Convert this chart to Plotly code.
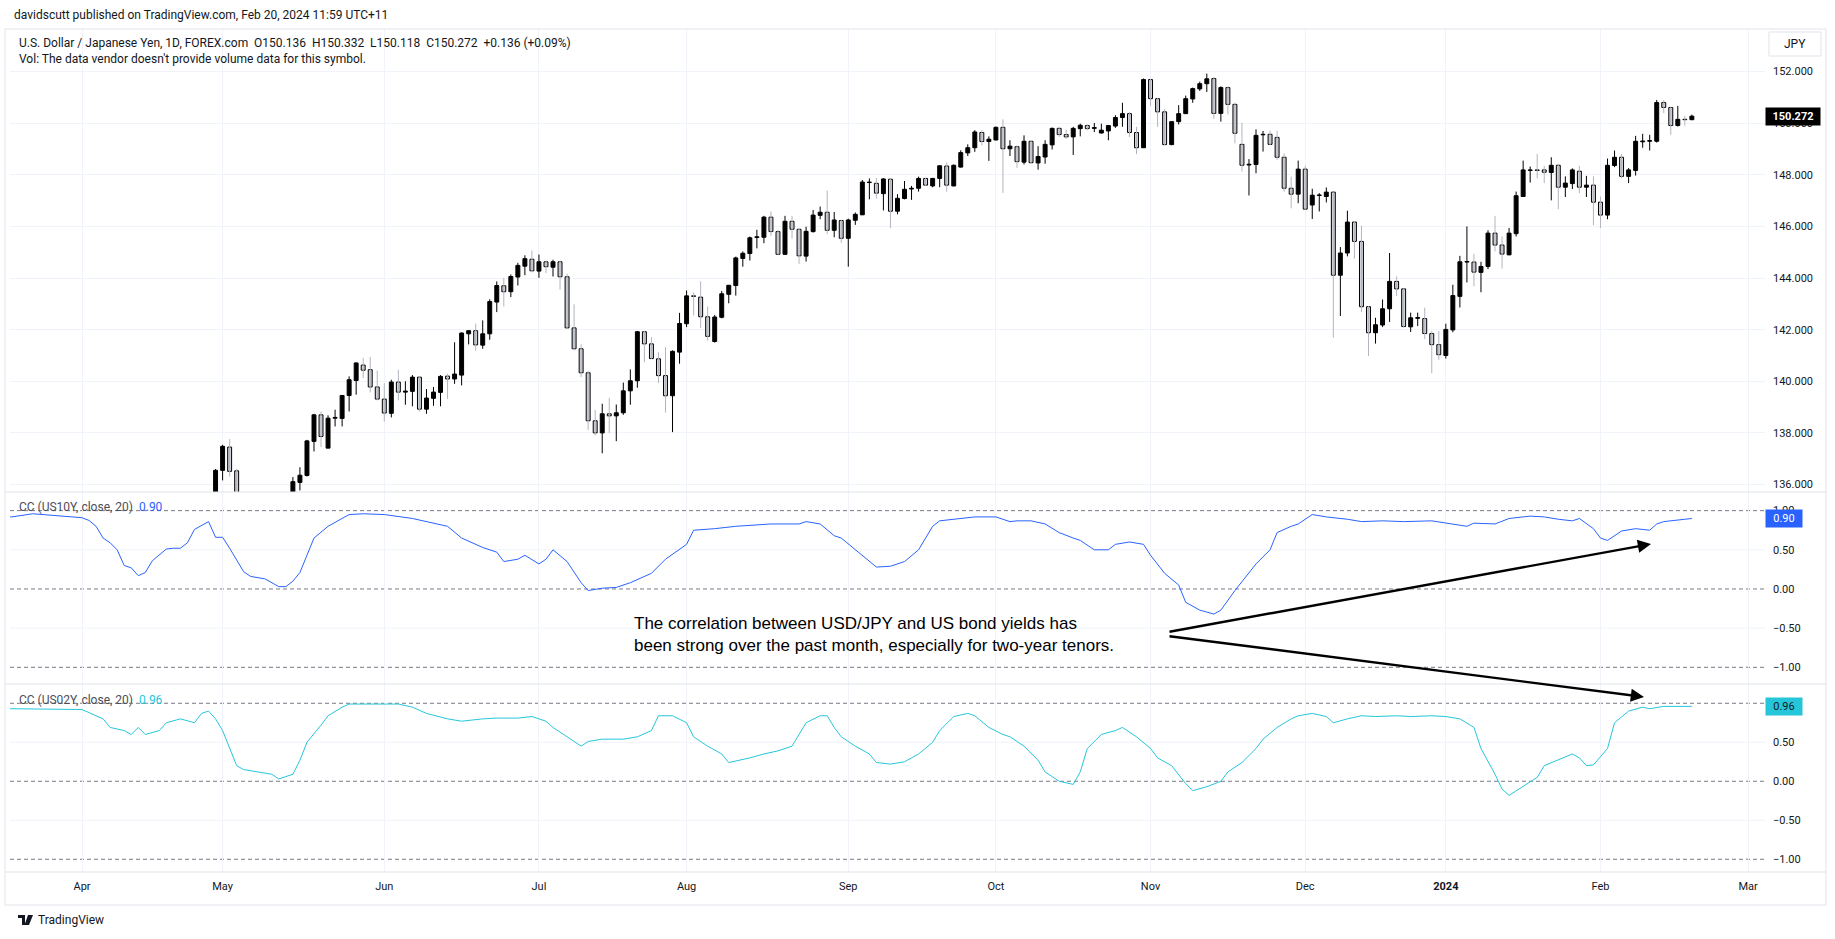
import plotly.graph_objects as go
import pandas as pd

# ---------------- data ----------------
candle_start = "2023-04-28"
opens = [
    133.90,
    136.55, 137.45, 136.53, 134.70, 134.25, 134.80, 135.10, 135.20, 134.30, 134.55, 135.60, 136.08, 136.35, 137.67, 138.70, 137.41, 138.57, 138.56, 139.45, 140.03, 140.63, 140.45, 139.78,
    139.31, 138.76, 139.97, 139.58, 139.61, 140.16, 138.92, 139.34, 139.57, 140.20, 140.09, 140.24, 141.84, 141.96, 141.40, 141.84, 143.07, 143.70, 143.47, 144.04, 144.46, 144.73,
    144.27, 144.63, 144.42, 144.63, 144.05, 142.07, 141.26, 140.33, 138.47, 138.00, 138.74, 138.66, 138.78, 139.63, 140.02, 141.92, 141.45, 140.87, 140.22, 139.44, 141.13,
    142.23, 143.31, 143.26, 142.50, 141.54, 142.48, 143.37, 143.71, 144.76, 144.95, 145.57, 145.58, 146.36, 145.80, 144.92, 146.20, 145.89, 144.85, 145.80, 146.43, 146.55, 145.85, 146.23,
    145.54, 146.24, 146.45, 147.70, 147.67, 147.27, 147.83, 146.59, 147.08, 147.45, 147.48, 147.86, 147.57, 147.86, 148.34, 147.57, 148.30, 148.85, 149.05, 149.64, 149.29,
    149.35, 149.84, 149.01, 149.09, 148.49, 149.30, 148.46, 148.69, 149.16, 149.80, 149.56, 149.47, 149.79, 149.91, 149.80, 149.62, 149.70, 149.89, 150.22, 150.37, 149.64, 149.05,
    151.69, 150.95, 150.44, 149.17, 150.06, 150.37, 150.94, 151.33, 151.53, 151.73, 150.38, 151.38, 150.73, 149.18, 148.38, 148.40, 149.55, 149.57, 149.45, 148.68, 147.48, 147.25,
    148.22, 146.83, 147.20, 147.16, 147.33, 144.11, 144.97, 146.17, 145.42, 142.89, 141.88, 142.18, 142.81, 143.87, 143.58, 142.11, 142.44, 142.43, 141.85, 141.42,
    141.00, 141.99, 143.29, 144.62, 144.62, 144.22, 144.45, 145.74, 145.28, 144.90, 145.72, 147.16, 148.17, 148.19, 148.19, 148.09, 148.37, 147.52, 147.66, 148.14, 147.52, 147.60,
    146.94, 146.44, 148.36, 148.68, 147.94, 148.17, 149.28, 149.30, 149.30, 150.80, 150.61, 149.91, 150.15, 150.136,
]
highs = [
    136.60,
    137.54, 137.76, 136.61, 134.85, 135.10, 135.20, 135.45, 135.45, 134.90, 135.60, 136.29, 136.67, 137.73, 138.74, 138.83, 138.68, 138.90, 139.47, 140.19, 140.73, 140.91, 140.94, 140.42,
    139.93, 140.06, 140.45, 140.00, 140.24, 140.21, 139.70, 139.78, 140.24, 140.29, 141.51, 141.89, 141.97, 142.23, 142.36, 143.18, 143.87, 144.01, 144.14, 144.59, 144.88, 145.07,
    144.91, 144.68, 144.71, 144.68, 144.17, 142.98, 141.43, 140.40, 138.89, 139.13, 139.36, 139.10, 139.95, 140.46, 141.95, 141.95, 141.71, 141.13, 141.32, 141.20, 142.65,
    143.52, 143.44, 143.87, 142.90, 142.57, 143.50, 143.72, 144.83, 145.03, 145.61, 145.87, 146.41, 146.58, 145.87, 146.41, 146.41, 145.92, 145.99, 146.64, 146.77, 147.39, 146.56, 146.25,
    146.30, 146.54, 147.80, 147.86, 147.88, 147.87, 147.85, 147.25, 147.76, 147.57, 147.93, 147.88, 147.88, 148.37, 148.48, 148.40, 148.95, 149.18, 149.73, 149.73, 149.49,
    149.87, 150.15, 149.34, 149.14, 149.53, 149.32, 149.11, 149.34, 149.83, 149.86, 149.75, 149.86, 149.98, 149.96, 150.01, 149.98, 149.91, 150.31, 150.79, 150.44, 149.86, 151.73,
    151.72, 150.97, 150.55, 150.06, 150.70, 151.07, 151.38, 151.61, 151.92, 151.79, 151.43, 151.43, 150.79, 150.02, 148.61, 149.76, 149.70, 149.71, 149.71, 148.83, 147.93, 148.55,
    148.35, 147.46, 147.29, 147.51, 147.35, 145.20, 146.61, 146.20, 146.03, 142.91, 142.46, 143.17, 144.97, 144.07, 143.60, 142.66, 142.66, 142.85, 141.95, 141.95,
    142.23, 143.74, 144.86, 146.00, 144.94, 144.63, 145.85, 146.41, 145.61, 145.94, 147.35, 148.55, 148.32, 148.81, 148.35, 148.68, 148.43, 147.94, 148.25, 148.35, 147.96, 147.94,
    147.16, 148.63, 148.94, 148.81, 148.26, 149.51, 149.59, 149.55, 150.90, 150.90, 150.63, 150.67, 150.28, 150.332,
]
lows = [
    133.55,
    136.16, 136.31, 134.40, 133.50, 133.85, 134.60, 134.80, 133.90, 133.70, 134.30, 135.45, 135.77, 136.31, 137.28, 137.45, 137.41, 138.25, 138.25, 138.83, 139.48, 140.12, 139.57, 139.26,
    138.44, 138.60, 139.26, 139.09, 139.03, 138.83, 138.74, 139.05, 139.03, 139.31, 139.90, 139.84, 141.43, 141.19, 141.26, 141.61, 142.68, 142.90, 143.26, 143.71, 144.11, 144.22,
    144.01, 144.19, 144.06, 143.55, 142.05, 141.20, 140.16, 138.12, 137.90, 137.21, 137.99, 137.68, 138.70, 139.09, 139.75, 140.74, 140.87, 139.93, 138.79, 138.03, 140.68,
    142.10, 142.55, 142.07, 141.58, 141.50, 142.44, 143.02, 143.32, 144.44, 144.68, 145.15, 145.35, 145.63, 144.90, 144.90, 145.53, 144.55, 144.64, 145.76, 146.28, 145.70, 145.58, 145.37,
    144.44, 146.06, 146.45, 147.05, 147.08, 146.62, 145.93, 146.47, 147.05, 147.03, 147.35, 147.57, 147.52, 147.52, 147.35, 147.55, 148.28, 148.73, 148.89, 149.14, 148.54,
    149.34, 147.30, 148.73, 148.27, 148.40, 148.45, 148.20, 148.43, 148.98, 149.47, 149.40, 148.77, 149.49, 149.73, 149.66, 149.60, 149.34, 149.82, 149.86, 149.47, 148.80, 149.05,
    150.67, 149.86, 149.15, 149.15, 149.95, 150.37, 150.79, 151.25, 151.21, 150.17, 150.06, 150.34, 149.22, 148.13, 147.20, 148.06, 148.90, 149.15, 148.58, 147.35, 146.70, 146.90,
    146.65, 146.29, 146.58, 146.93, 141.69, 142.53, 144.84, 144.75, 142.68, 140.98, 141.46, 142.10, 142.30, 143.30, 142.08, 141.91, 142.14, 141.63, 140.31, 140.83,
    140.88, 141.90, 142.86, 143.83, 143.68, 143.45, 144.35, 145.03, 144.37, 144.88, 145.61, 147.14, 147.70, 147.86, 147.68, 147.01, 146.67, 147.14, 147.45, 147.29, 147.14, 146.05,
    145.94, 146.28, 148.30, 147.86, 147.68, 147.97, 149.05, 148.94, 149.25, 150.39, 149.55, 149.87, 149.90, 150.118,
]
closes = [
    136.55,
    137.48, 136.51, 134.70, 134.25, 134.80, 135.10, 135.20, 134.30, 134.55, 135.55, 136.11, 136.36, 137.69, 138.70, 137.86, 138.57, 138.60, 139.45, 140.06, 140.71, 140.43, 139.78, 139.31,
    138.77, 139.97, 139.58, 139.62, 140.16, 138.92, 139.35, 139.58, 140.19, 140.09, 140.28, 141.87, 141.96, 141.41, 141.84, 143.09, 143.71, 143.47, 144.06, 144.49, 144.75, 144.28,
    144.63, 144.44, 144.63, 144.05, 142.07, 141.26, 140.33, 138.47, 138.00, 138.74, 138.66, 138.78, 139.63, 140.02, 141.92, 141.45, 140.88, 140.22, 139.44, 141.16, 142.24,
    143.31, 143.29, 142.50, 141.74, 142.49, 143.39, 143.72, 144.78, 144.96, 145.56, 145.60, 146.36, 145.80, 144.92, 146.20, 145.89, 144.86, 145.81, 146.44, 146.55, 145.85, 146.25, 145.54,
    146.25, 146.47, 147.72, 147.72, 147.29, 147.84, 146.59, 147.09, 147.44, 147.48, 147.86, 147.60, 147.86, 148.35, 147.60, 148.37, 148.86, 149.05, 149.66, 149.29, 149.38,
    149.84, 149.01, 149.11, 148.51, 149.30, 148.47, 148.71, 149.18, 149.80, 149.56, 149.47, 149.80, 149.92, 149.79, 149.83, 149.73, 149.91, 150.22, 150.37, 149.64, 149.05, 151.69,
    150.95, 150.44, 149.17, 150.06, 150.37, 150.95, 151.34, 151.53, 151.72, 150.38, 151.38, 150.73, 149.61, 148.37, 148.41, 149.53, 149.57, 149.18, 148.68, 147.48, 147.25, 148.22,
    146.67, 147.21, 147.22, 147.33, 144.11, 144.97, 146.17, 145.42, 142.89, 141.88, 142.19, 142.81, 143.87, 143.58, 142.12, 142.46, 142.47, 141.85, 141.42, 141.03,
    142.01, 143.32, 144.63, 144.64, 144.23, 144.45, 145.74, 145.28, 144.93, 145.74, 147.19, 148.19, 148.19, 148.17, 148.10, 148.37, 147.52, 147.68, 148.19, 147.52, 147.60, 146.94,
    146.44, 148.37, 148.68, 147.94, 148.19, 149.30, 149.31, 149.33, 150.80, 150.61, 149.91, 150.15, 150.136, 150.272,
]

cc10_dates = [
    "2023-03-17", "2023-03-20", "2023-03-23",
    "2023-04-03", "2023-04-04", "2023-04-05", "2023-04-06", "2023-04-07", "2023-04-10", "2023-04-11", "2023-04-12", "2023-04-13", "2023-04-14", "2023-04-17", "2023-04-19", "2023-04-20", "2023-04-21", "2023-04-24", "2023-04-25", "2023-04-26", "2023-04-27", "2023-04-28",
    "2023-05-01", "2023-05-02", "2023-05-04", "2023-05-05", "2023-05-09", "2023-05-11", "2023-05-12", "2023-05-15", "2023-05-16", "2023-05-17", "2023-05-18", "2023-05-22", "2023-05-24", "2023-05-25", "2023-05-29",
    "2023-06-01", "2023-06-07", "2023-06-14", "2023-06-16", "2023-06-20", "2023-06-21", "2023-06-23", "2023-06-26", "2023-06-28", "2023-06-29",
    "2023-07-03", "2023-07-04", "2023-07-05", "2023-07-07", "2023-07-11", "2023-07-12", "2023-07-14", "2023-07-18", "2023-07-20", "2023-07-25", "2023-07-27",
    "2023-08-01", "2023-08-02", "2023-08-07", "2023-08-10", "2023-08-17", "2023-08-23", "2023-08-24", "2023-08-28", "2023-08-30", "2023-08-31",
    "2023-09-04", "2023-09-06", "2023-09-07", "2023-09-11", "2023-09-13", "2023-09-15", "2023-09-19", "2023-09-20", "2023-09-25", "2023-09-27",
    "2023-10-02", "2023-10-04", "2023-10-05", "2023-10-09", "2023-10-11", "2023-10-13", "2023-10-17", "2023-10-18", "2023-10-20", "2023-10-24", "2023-10-25", "2023-10-27", "2023-10-31",
    "2023-11-01", "2023-11-03", "2023-11-07", "2023-11-08", "2023-11-10", "2023-11-14", "2023-11-15", "2023-11-17", "2023-11-21", "2023-11-22", "2023-11-24", "2023-11-27", "2023-11-29", "2023-11-30",
    "2023-12-04", "2023-12-06", "2023-12-11", "2023-12-13", "2023-12-18", "2023-12-21", "2023-12-28",
    "2024-01-03", "2024-01-05", "2024-01-08", "2024-01-11", "2024-01-15", "2024-01-18", "2024-01-22", "2024-01-24", "2024-01-26", "2024-01-29", "2024-01-31",
    "2024-02-01", "2024-02-02", "2024-02-05", "2024-02-06", "2024-02-08", "2024-02-12", "2024-02-13", "2024-02-14", "2024-02-19", "2024-02-20",
]
cc10_vals = [
    0.92, 0.92, 0.96,
    0.91, 0.875, 0.80, 0.65, 0.59, 0.50, 0.30, 0.27, 0.17, 0.21, 0.36, 0.51, 0.52, 0.52, 0.59, 0.76, 0.81, 0.86, 0.66,
    0.66, 0.52, 0.22, 0.16, 0.13, 0.03, 0.03, 0.10, 0.21, 0.43, 0.65, 0.80, 0.90, 0.95, 0.96,
    0.95, 0.90, 0.80, 0.65, 0.57, 0.53, 0.47, 0.35, 0.38, 0.43,
    0.32, 0.38, 0.50, 0.35, 0.08, -0.02, 0.01, 0.02, 0.08, 0.20, 0.38,
    0.57, 0.75, 0.77, 0.80, 0.83, 0.83, 0.86, 0.83, 0.68, 0.65,
    0.50, 0.35, 0.28, 0.29, 0.35, 0.50, 0.80, 0.87, 0.90, 0.92,
    0.92, 0.86, 0.87, 0.87, 0.83, 0.72, 0.65, 0.62, 0.50, 0.50, 0.57, 0.60, 0.57,
    0.43, 0.20, 0.05, -0.17, -0.27, -0.32, -0.27, -0.02, 0.20, 0.32, 0.50, 0.72, 0.80, 0.83,
    0.95, 0.92, 0.89, 0.86, 0.87, 0.86, 0.87,
    0.83, 0.80, 0.84, 0.83, 0.90, 0.93, 0.92, 0.89, 0.87, 0.90, 0.77,
    0.65, 0.62, 0.68, 0.74, 0.77, 0.75, 0.83, 0.86, 0.89, 0.90,
]

cc02_dates = [
    "2023-03-17", "2023-03-20",
    "2023-04-03", "2023-04-06", "2023-04-07", "2023-04-11", "2023-04-12", "2023-04-13", "2023-04-14", "2023-04-18", "2023-04-19", "2023-04-21", "2023-04-25", "2023-04-26", "2023-04-27", "2023-04-28",
    "2023-05-01", "2023-05-02", "2023-05-03", "2023-05-04", "2023-05-08", "2023-05-10", "2023-05-11", "2023-05-15", "2023-05-16", "2023-05-17", "2023-05-19", "2023-05-22", "2023-05-24", "2023-05-25",
    "2023-06-05", "2023-06-07", "2023-06-09", "2023-06-14", "2023-06-16", "2023-06-21", "2023-06-23", "2023-06-28", "2023-06-30",
    "2023-07-04", "2023-07-05", "2023-07-07", "2023-07-11", "2023-07-12", "2023-07-14", "2023-07-19", "2023-07-21", "2023-07-25", "2023-07-26", "2023-07-28",
    "2023-08-01", "2023-08-02", "2023-08-04", "2023-08-08", "2023-08-09", "2023-08-14", "2023-08-16", "2023-08-18", "2023-08-22", "2023-08-23", "2023-08-24", "2023-08-28", "2023-08-29", "2023-08-30", "2023-08-31",
    "2023-09-04", "2023-09-06", "2023-09-07", "2023-09-11", "2023-09-13", "2023-09-15", "2023-09-19", "2023-09-20", "2023-09-22", "2023-09-26", "2023-09-27", "2023-09-29",
    "2023-10-03", "2023-10-04", "2023-10-06", "2023-10-10", "2023-10-11", "2023-10-13", "2023-10-17", "2023-10-18", "2023-10-19", "2023-10-23", "2023-10-25", "2023-10-26", "2023-10-30",
    "2023-11-01", "2023-11-02", "2023-11-06", "2023-11-08", "2023-11-09", "2023-11-13", "2023-11-15", "2023-11-16", "2023-11-20", "2023-11-22", "2023-11-23", "2023-11-27", "2023-11-29", "2023-11-30",
    "2023-12-04", "2023-12-06", "2023-12-07", "2023-12-11", "2023-12-13", "2023-12-15", "2023-12-20", "2023-12-22", "2023-12-28",
    "2024-01-02", "2024-01-04", "2024-01-08", "2024-01-09", "2024-01-11", "2024-01-12", "2024-01-15", "2024-01-17", "2024-01-19", "2024-01-22", "2024-01-24", "2024-01-26", "2024-01-29", "2024-01-30", "2024-01-31",
    "2024-02-02", "2024-02-05", "2024-02-07", "2024-02-09", "2024-02-12", "2024-02-14", "2024-02-20",
]
cc02_vals = [
    0.93, 0.93,
    0.92, 0.80, 0.69, 0.65, 0.60, 0.69, 0.60, 0.65, 0.75, 0.80, 0.75, 0.87, 0.90, 0.80,
    0.65, 0.42, 0.20, 0.15, 0.12, 0.09, 0.03, 0.09, 0.27, 0.50, 0.72, 0.84, 0.95, 0.99,
    0.99, 0.95, 0.87, 0.80, 0.77, 0.80, 0.81, 0.81, 0.83,
    0.77, 0.69, 0.57, 0.45, 0.51, 0.54, 0.54, 0.57, 0.65, 0.84, 0.84,
    0.75, 0.57, 0.45, 0.35, 0.24, 0.30, 0.35, 0.39, 0.45, 0.60, 0.75, 0.84, 0.84, 0.69, 0.57,
    0.45, 0.35, 0.24, 0.22, 0.25, 0.35, 0.50, 0.65, 0.83, 0.87, 0.84, 0.69,
    0.60, 0.57, 0.45, 0.27, 0.12, 0.00, -0.04, 0.12, 0.42, 0.60, 0.65, 0.69, 0.57,
    0.42, 0.30, 0.20, -0.03, -0.12, -0.07, 0.00, 0.12, 0.24, 0.42, 0.54, 0.69, 0.80, 0.84,
    0.87, 0.83, 0.75, 0.80, 0.84, 0.83, 0.84, 0.83, 0.84,
    0.83, 0.80, 0.69, 0.42, 0.09, -0.10, -0.18, -0.06, 0.05, 0.20, 0.27, 0.35, 0.30, 0.20, 0.21,
    0.42, 0.75, 0.90, 0.95, 0.93, 0.96, 0.96,
]

month_labels = ["Apr", "May", "Jun", "Jul", "Aug", "Sep", "Oct", "Nov", "Dec", "<b>2024</b>", "Feb", "Mar"]
price_ticks = [136, 138, 140, 142, 144, 146, 148, 150, 152]
cc_ticks = [-1.0, -0.5, 0.0, 0.5, 1.0]
cc_levels = [1.0, 0.0, -1.0]
cc_grid = [0.5, -0.5]

# ---------------- calendar / positions ----------------
holidays = {"2023-12-25", "2024-01-01"}
cal = [d.strftime("%Y-%m-%d") for d in pd.bdate_range("2023-03-16", "2024-03-01")]
cal = [d for d in cal if d not in holidays]
pos = {d: i for i, d in enumerate(cal)}

n = min(len(opens), len(highs), len(lows), len(closes))
s = pos[candle_start]
cx = list(range(s, s + n))

tick_vals = []
seen = set()
for i, d in enumerate(cal):
    ym = d[:7]
    if ym not in seen:
        seen.add(ym)
        if d >= "2023-04-01":
            tick_vals.append(i)
tick_text = month_labels[:len(tick_vals)]

# pixel geometry (layout)
W, H = 1835, 939
L, R, T, B = 10, 70, 29, 67
PW, PH = W - L - R, H - T - B
bar_px = 7.03
r0 = pos["2023-04-03"] - (82 - L) / bar_px
r1 = r0 + PW / bar_px


def py(p):  # pixel y -> paper y
    return (H - B - p) / PH


def px(p):  # pixel x -> paper x
    return (p - L) / PW


dom_price = [py(492), 1.0]
dom_cc1 = [py(684), py(492)]
dom_cc2 = [0.0, py(684)]

UP_FILL, DN_FILL = "#000000", "#d1d4dc"
DN_WICK = "#b2b5be"
GRID = "#f0f3fa"
BORDER = "#e0e3eb"
TXT = "#131722"
BLUE = "#2962ff"
CYAN = "#26c6da"

fig = go.Figure()

# wicks
for up, col in ((True, "#000000"), (False, DN_WICK)):
    wx, wy = [], []
    for i in range(n):
        if (closes[i] >= opens[i]) == up:
            wx += [cx[i], cx[i], None]
            wy += [lows[i], highs[i], None]
    fig.add_trace(go.Scatter(x=wx, y=wy, mode="lines", line=dict(color=col, width=1),
                             xaxis="x", yaxis="y", hoverinfo="skip"))

# bodies
for up, col in ((True, UP_FILL), (False, DN_FILL)):
    bx, bb, bh = [], [], []
    for i in range(n):
        if (closes[i] >= opens[i]) == up:
            bx.append(cx[i])
            bb.append(min(opens[i], closes[i]))
            bh.append(max(abs(closes[i] - opens[i]), 0.015))
    fig.add_trace(go.Bar(x=bx, y=bh, base=bb, width=0.56, marker=dict(color=col, line=dict(color="#000000", width=1)),
                         xaxis="x", yaxis="y", hoverinfo="skip"))

# correlation lines
fig.add_trace(go.Scatter(x=[pos[d] for d in cc10_dates], y=cc10_vals, mode="lines",
                         line=dict(color=BLUE, width=1), xaxis="x2", yaxis="y2", hoverinfo="skip"))
fig.add_trace(go.Scatter(x=[pos[d] for d in cc02_dates], y=cc02_vals, mode="lines",
                         line=dict(color=CYAN, width=1), xaxis="x3", yaxis="y3", hoverinfo="skip"))

xcommon = dict(range=[r0, r1], tickvals=tick_vals, ticktext=tick_text, showgrid=True, gridcolor=GRID,
               gridwidth=1, zeroline=False, showline=False, ticks="", fixedrange=True)
ycommon = dict(side="right", showline=False, zeroline=False, ticks="", fixedrange=True,
               tickfont=dict(size=11, color=TXT), ticklabelstandoff=7)

fig.update_layout(
    width=W, height=H, margin=dict(l=L, r=R, t=T, b=B, pad=0),
    paper_bgcolor="white", plot_bgcolor="white", showlegend=False, barmode="overlay",
    font=dict(family="Roboto, Arial, sans-serif", size=11, color=TXT),
    xaxis=dict(domain=[0, 1], anchor="y", showticklabels=False, **xcommon),
    xaxis2=dict(domain=[0, 1], anchor="y2", matches="x", showticklabels=False, **xcommon),
    xaxis3=dict(domain=[0, 1], anchor="y3", matches="x", showticklabels=True,
                tickfont=dict(size=11, color=TXT), ticklabelstandoff=6, **xcommon),
    yaxis=dict(domain=dom_price, anchor="x", range=[135.71, 153.65], tickvals=price_ticks,
               ticktext=[f"{v:.3f}" for v in price_ticks], showgrid=True, gridcolor=GRID, **ycommon),
    yaxis2=dict(domain=dom_cc1, anchor="x2", range=[-1.213, 1.238], tickvals=cc_ticks,
                ticktext=[f"{v:.2f}".replace("-", "\u2212") for v in cc_ticks], showgrid=False, **ycommon),
    yaxis3=dict(domain=dom_cc2, anchor="x3", range=[-1.163, 1.247], tickvals=cc_ticks,
                ticktext=[f"{v:.2f}".replace("-", "\u2212") for v in cc_ticks], showgrid=False, **ycommon),
)

shapes = []
for yref in ("y2", "y3"):
    for g in cc_grid:
        shapes.append(dict(type="line", xref="paper", yref=yref, x0=0, x1=1, y0=g, y1=g,
                           line=dict(color=GRID, width=1), layer="below"))
    for lv in cc_levels:
        shapes.append(dict(type="line", xref="paper", yref=yref, x0=0, x1=1, y0=lv, y1=lv,
                           line=dict(color="#787b86", width=1, dash="4px,3px"), layer="below"))
# pane separators and frame
for yy in (492, 684, 872):
    shapes.append(dict(type="line", xref="paper", yref="paper", x0=px(5), x1=px(1826), y0=py(yy), y1=py(yy),
                       line=dict(color=BORDER, width=1)))
shapes.append(dict(type="rect", xref="paper", yref="paper", x0=px(5), x1=px(1826), y0=py(905), y1=py(29),
                   line=dict(color=BORDER, width=1)))
# JPY button
shapes.append(dict(type="rect", xref="paper", yref="paper", x0=px(1769), x1=px(1821), y0=py(56), y1=py(32),
                   line=dict(color=BORDER, width=1), fillcolor="white"))
# TradingView logo mark
shapes.append(dict(type="path", xref="paper", yref="paper",
                   path=f"M {px(18)},{py(915)} L {px(25)},{py(915)} L {px(25)},{py(925)} L {px(22)},{py(925)} L {px(22)},{py(918)} L {px(18)},{py(918)} Z",
                   fillcolor="#131722", line=dict(width=0)))
shapes.append(dict(type="path", xref="paper", yref="paper",
                   path=f"M {px(28)},{py(915)} L {px(33)},{py(915)} L {px(29)},{py(925)} L {px(24.5)},{py(925)} Z",
                   fillcolor="#131722", line=dict(width=0)))
fig.update_layout(shapes=shapes)

last_o, last_h, last_l, last_c = opens[n - 1], highs[n - 1], lows[n - 1], closes[n - 1]
prev_c = closes[n - 2]
chg = last_c - prev_c
pct = chg / prev_c * 100
sp = "\u00a0\u00a0"
legend_txt = (f"U.S. Dollar / Japanese Yen, 1D, FOREX.com{sp}O{last_o:.3f}{sp}H{last_h:.3f}{sp}"
              f"L{last_l:.3f}{sp}C{last_c:.3f}{sp}{chg:+.3f} ({pct:+.2f}%)")

ann = [
    dict(text="davidscutt published on TradingView.com, Feb 20, 2024 11:59 UTC+11", x=px(12), y=py(15),
         font=dict(size=12, color=TXT)),
    dict(text=legend_txt, x=px(17), y=py(43), font=dict(size=12, color=TXT)),
    dict(text="Vol: The data vendor doesn't provide volume data for this symbol.", x=px(17), y=py(59),
         font=dict(size=12, color=TXT)),
    dict(text=f"CC (US10Y, close, 20)\u00a0\u00a0<span style='color:{BLUE}'>{cc10_vals[-1]:.2f}</span>",
         x=px(17), y=py(507), font=dict(size=12, color="#4a4e59")),
    dict(text=f"CC (US02Y, close, 20)\u00a0\u00a0<span style='color:{CYAN}'>{cc02_vals[-1]:.2f}</span>",
         x=px(17), y=py(700), font=dict(size=12, color="#4a4e59")),
    dict(text="The correlation between USD/JPY and US bond yields has<br>been strong over the past month, especially for two-year tenors.",
         x=px(632), y=py(634), align="left", font=dict(size=17, color="#000000", family="Liberation Sans, Arial, sans-serif")),
    dict(text="TradingView", x=px(36), y=py(920), font=dict(size=12, color=TXT)),
    dict(text="JPY", x=px(1795), y=py(44), xanchor="center", font=dict(size=12, color=TXT)),
]
for a in ann:
    a.setdefault("xanchor", "left")
    a.update(xref="paper", yref="paper", yanchor="middle", showarrow=False)

# last-value labels on the scales
ann.append(dict(text=f"<b>{last_c:.3f}</b>", xref="paper", yref="y", x=1, y=last_c, xanchor="left",
                yanchor="middle", showarrow=False, bgcolor="#000000", font=dict(size=11, color="white"),
                width=50, borderpad=2))
ann.append(dict(text=f"{cc10_vals[-1]:.2f}", xref="paper", yref="y2", x=1, y=cc10_vals[-1], xanchor="left",
                yanchor="middle", showarrow=False, bgcolor=BLUE, font=dict(size=11, color="white"),
                width=32, borderpad=2))
ann.append(dict(text=f"{cc02_vals[-1]:.2f}", xref="paper", yref="y3", x=1, y=cc02_vals[-1], xanchor="left",
                yanchor="middle", showarrow=False, bgcolor=CYAN, font=dict(size=11, color=TXT),
                width=32, borderpad=2))
# arrows
ann.append(dict(text="", xref="paper", yref="paper", x=px(1651), y=py(544), ax=1168 - 1651, ay=632 - 544,
                axref="pixel", ayref="pixel", showarrow=True, arrowhead=2, arrowsize=1.1, arrowwidth=2.4,
                arrowcolor="#000000", standoff=0))
ann.append(dict(text="", xref="paper", yref="paper", x=px(1644), y=py(697), ax=1168 - 1644, ay=636 - 697,
                axref="pixel", ayref="pixel", showarrow=True, arrowhead=2, arrowsize=1.1, arrowwidth=2.4,
                arrowcolor="#000000", standoff=0))
fig.update_layout(annotations=ann)

fig.write_html("out.html", config={"displayModeBar": False, "staticPlot": True},
               post_script="document.body.style.margin='0';")
